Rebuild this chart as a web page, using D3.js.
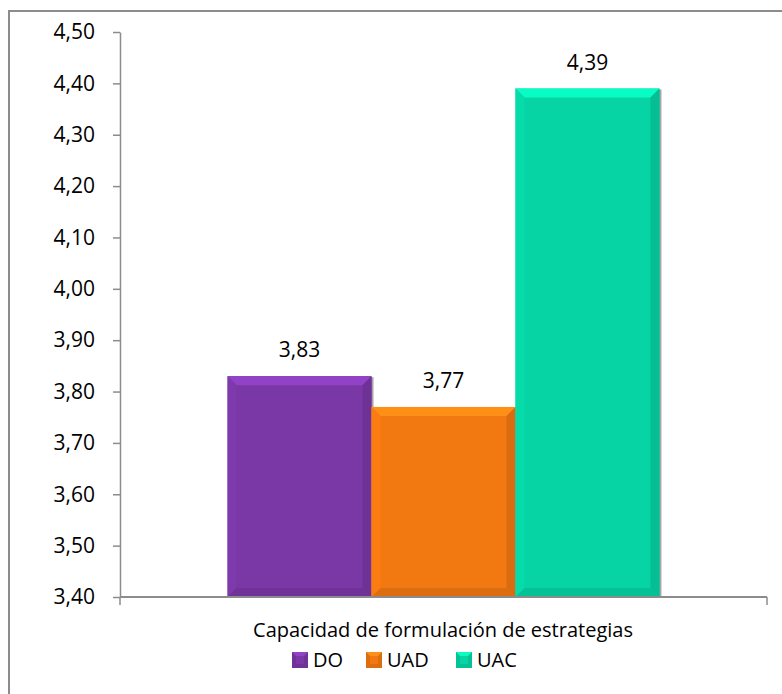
<!DOCTYPE html>
<html>
<head>
<meta charset="utf-8">
<script src="https://cdn.jsdelivr.net/npm/d3@7"></script>
<style>
  html, body { margin: 0; padding: 0; background: #fff; }
  svg { display: block; font-family: "Open Sans", Lato, "Liberation Sans", sans-serif; }
</style>
</head>
<body>
<svg id="chart" width="782" height="694"></svg>
<script>
// Data
const category = "Capacidad de formulación de estrategias";
const seriesNames = ["DO", "UAD", "UAC"];
const seriesValues = [3.83, 3.77, 4.39];
const seriesColors = ["#7a37a6", "#f27812", "#06d4a4"];
const yTicks = [3.4, 3.5, 3.6, 3.7, 3.8, 3.9, 4.0, 4.1, 4.2, 4.3, 4.4, 4.5];

const fmt = v => v.toFixed(2).replace(".", ",");
const FS = "20px";
const FS_NUM = "21px";

const svg = d3.select("#chart");

// Outer chart frame
svg.append("rect")
  .attr("x", 9).attr("y", 11)
  .attr("width", 800).attr("height", 720)
  .attr("fill", "none").attr("stroke", "#8c8c8c").attr("stroke-width", 2);

const plot = { left: 120, right: 767, top: 32, bottom: 597 };

const y = d3.scaleLinear().domain([3.4, 4.5]).range([plot.bottom, plot.top]);
const x0 = d3.scaleBand().domain([category]).range([plot.left, plot.right]);
const x1 = d3.scaleBand().domain(seriesNames)
  .range([0, x0.bandwidth()]).paddingInner(0).paddingOuter(0.747);

const shade = (c, k) => d3.color(c).darker(k).formatHex();
const tint = (c, k) => d3.color(c).brighter(k).formatHex();

// Y axis
const yAxis = d3.axisLeft(y).tickValues(yTicks).tickFormat(fmt).tickSize(7).tickSizeOuter(0);
const gy = svg.append("g").attr("transform", `translate(${plot.left},0)`).call(yAxis);
gy.select(".domain").attr("stroke", "#8c8c8c").attr("stroke-width", 1.5);
gy.selectAll(".tick line").attr("stroke", "#8c8c8c").attr("stroke-width", 1.5);
gy.selectAll(".tick text").attr("x", -25).attr("fill", "#000")
  .style("font-size", FS_NUM).style("font-family", "'Open Sans', Lato, sans-serif");

// Bars
const bars = svg.append("g");
seriesNames.forEach((name, i) => {
  const v = seriesValues[i];
  const c = seriesColors[i];
  const bx = x0(category) + x1(name);
  const bw = x1.bandwidth();
  const by = y(v);
  const bh = y(3.4) - by;
  const b = 9; // bevel depth

  const g = bars.append("g");
  // soft shadow on the right side
  g.append("rect").attr("x", bx + 2).attr("y", by + 1).attr("width", bw).attr("height", bh - 1)
    .attr("fill", "#000").attr("opacity", 0.35);
  g.append("rect").attr("x", bx).attr("y", by).attr("width", bw).attr("height", bh).attr("fill", c);
  // top bevel (light)
  g.append("polygon")
    .attr("points", [[bx, by], [bx + bw, by], [bx + bw - b, by + b], [bx + b, by + b]].join(" "))
    .attr("fill", tint(c, 0.5));
  // left bevel
  g.append("polygon")
    .attr("points", [[bx, by], [bx + b, by + b], [bx + b, by + bh - b], [bx, by + bh]].join(" "))
    .attr("fill", tint(c, 0.1));
  // right bevel
  g.append("polygon")
    .attr("points", [[bx + bw, by], [bx + bw, by + bh], [bx + bw - b, by + bh - b], [bx + bw - b, by + b]].join(" "))
    .attr("fill", shade(c, 0.3));
  // bottom bevel
  g.append("polygon")
    .attr("points", [[bx, by + bh], [bx + b, by + bh - b], [bx + bw - b, by + bh - b], [bx + bw, by + bh]].join(" "))
    .attr("fill", shade(c, 0.25));

  // value label
  svg.append("text")
    .attr("x", bx + bw / 2).attr("y", by - 19)
    .attr("text-anchor", "middle").attr("fill", "#000")
    .style("font-size", FS_NUM)
    .text(fmt(v));
});

// X axis (category axis with boundary ticks)
const gx = svg.append("g").attr("transform", `translate(0,${plot.bottom})`);
gx.append("line").attr("x1", plot.left).attr("x2", plot.right)
  .attr("stroke", "#8c8c8c").attr("stroke-width", 1.8);
[plot.left, plot.right].forEach(px => {
  gx.append("line").attr("x1", px).attr("x2", px).attr("y1", 0).attr("y2", 8)
    .attr("stroke", "#8c8c8c").attr("stroke-width", 1.5);
});
gx.append("text")
  .attr("x", x0(category) + x0.bandwidth() / 2 - 0.5).attr("y", 40)
  .attr("text-anchor", "middle").attr("fill", "#000")
  .style("font-size", FS)
  .text(category);

// Legend
const legendX = [292, 366, 456];
const lg = svg.append("g").attr("transform", "translate(0,652)");
seriesNames.forEach((name, i) => {
  const c = seriesColors[i];
  const lx = legendX[i];
  const s = 16, b = 4;
  lg.append("rect").attr("x", lx).attr("y", 0).attr("width", s).attr("height", s).attr("fill", shade(c, 0.25));
  lg.append("polygon")
    .attr("points", [[lx, 0], [lx + s, 0], [lx + s - b, b], [lx + b, b]].join(" "))
    .attr("fill", tint(c, 0.5));
  lg.append("rect").attr("x", lx + b).attr("y", b).attr("width", s - 2 * b).attr("height", s - 2 * b).attr("fill", c);
  lg.append("text").attr("x", lx + s + 5).attr("y", 8).attr("dy", "0.36em")
    .attr("fill", "#000").style("font-size", FS).text(name);
});
</script>
</body>
</html>
